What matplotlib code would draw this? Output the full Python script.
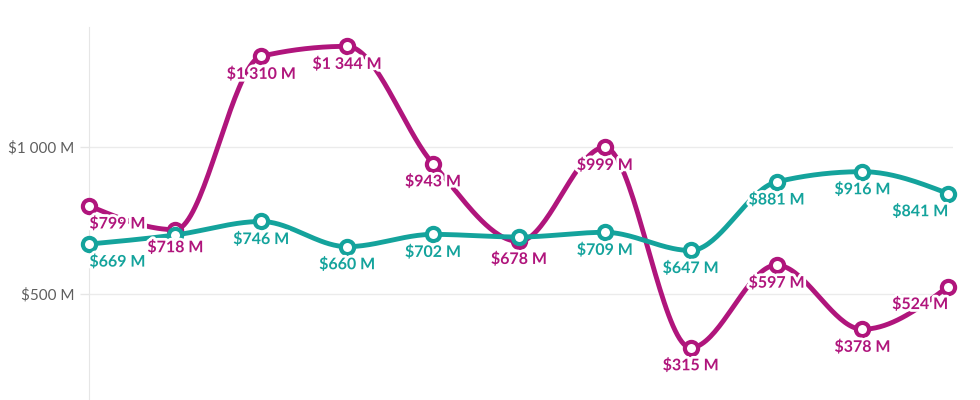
import numpy as np
import matplotlib.pyplot as plt
import matplotlib.patheffects as pe

plt.rcParams['font.family'] = ['Lato', 'DejaVu Sans']

magenta_vals = [799, 718, 1310, 1344, 943, 678, 999, 315, 597, 378, 524]
teal_vals = [669, 700, 746, 660, 702, 693, 709, 647, 881, 916, 841]
# labels that are hidden in the chart (overlapping)
teal_hidden = [1, 5]
yticks = [500, 1000]
ytick_labels = ["$500 M", "$1 000 M"]

magenta = "#b0157c"
teal = "#14a39c"


def monotone(y, steps=40):
    # d3 curveMonotoneX style cubic through equally spaced points
    y = np.asarray(y, float)
    n = len(y)
    s = np.diff(y)
    t = np.zeros(n)
    for i in range(1, n - 1):
        s0, s1 = s[i - 1], s[i]
        p = (s0 + s1) / 2
        sg0 = -1 if s0 < 0 else 1
        sg1 = -1 if s1 < 0 else 1
        t[i] = (sg0 + sg1) * min(abs(s0), abs(s1), 0.5 * abs(p))
    t[0] = (3 * s[0] - t[1]) / 2
    t[-1] = (3 * s[-1] - t[-2]) / 2
    xs, ys = [], []
    u = np.linspace(0, 1, steps)
    for i in range(n - 1):
        h00 = 2 * u**3 - 3 * u**2 + 1
        h10 = u**3 - 2 * u**2 + u
        h01 = -2 * u**3 + 3 * u**2
        h11 = u**3 - u**2
        xs.append(i + u)
        ys.append(h00 * y[i] + h10 * t[i] + h01 * y[i + 1] + h11 * t[i + 1])
    return np.concatenate(xs), np.concatenate(ys)


def money(v):
    s = f"{v:,}".replace(",", " ")
    return f"${s} M"


fig = plt.figure(figsize=(9.8, 4), dpi=100)
ax = fig.add_axes([89 / 980, 0, (953 - 89) / 980, (400 - 27) / 400])

x = np.arange(len(magenta_vals))
for vals, col, z in [(magenta_vals, magenta, 3), (teal_vals, teal, 4)]:
    cx, cy = monotone(vals)
    ax.plot(cx, cy, color=col, lw=3.5, zorder=z, clip_on=False,
            solid_capstyle="round")
    ax.plot(x, vals, "o", ms=9.5, mfc="white", mec=col, mew=3,
            zorder=z, clip_on=False)

halo = [pe.withStroke(linewidth=4, foreground="white")]
for vals, col, hidden in [(magenta_vals, magenta, []), (teal_vals, teal, teal_hidden)]:
    for i, v in enumerate(vals):
        if i in hidden:
            continue
        ha = "center"
        if i == 0:
            ha = "left"
        elif i == len(vals) - 1:
            ha = "right"
        ax.annotate(money(v), (i, v), xytext=(0, -13), textcoords="offset points",
                    ha=ha, va="center", fontsize=11.5, fontweight="bold",
                    color=col, path_effects=halo, zorder=10, annotation_clip=False)

ax.set_xlim(-0.005, 10.055)
ax.set_ylim(136.5, 1410)
ax.set_xticks([])
ax.set_yticks(yticks)
ax.set_yticklabels(ytick_labels)
ax.tick_params(axis="y", length=6.5, width=1, color="#e6e6e6", pad=4,
               labelsize=11, labelcolor="#5f5f5f")
ax.grid(axis="y", color="#ebebeb", lw=1)
ax.set_axisbelow(True)
for side in ["top", "right", "bottom"]:
    ax.spines[side].set_visible(False)
ax.spines["left"].set_color("#e6e6e6")

fig.savefig("out.png", dpi=100)
